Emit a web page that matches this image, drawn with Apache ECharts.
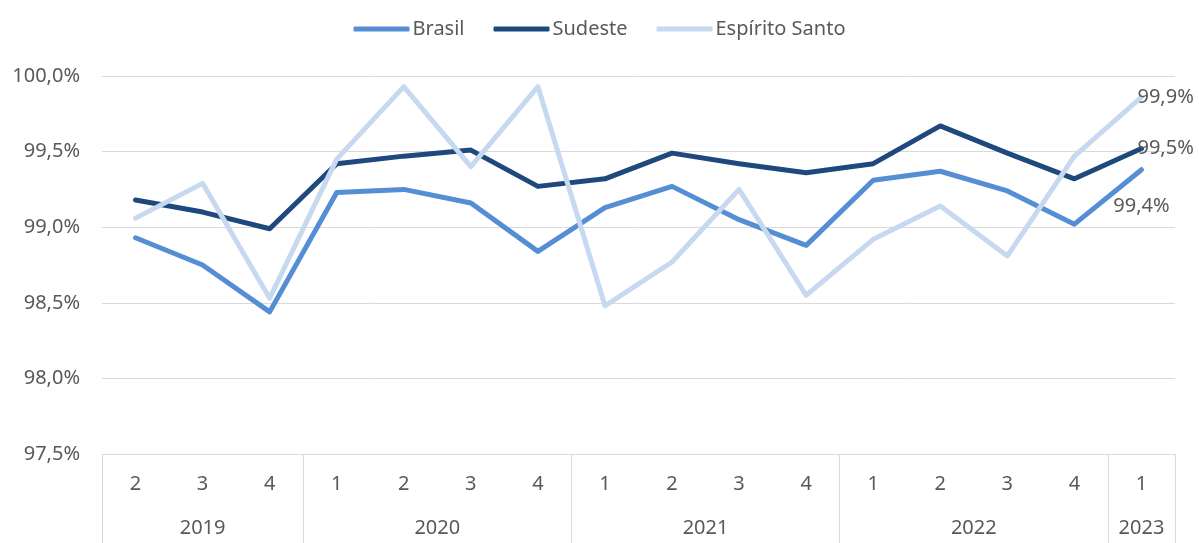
<!DOCTYPE html>
<html>
<head>
<meta charset="utf-8">
<script src="https://cdn.jsdelivr.net/npm/echarts@6/dist/echarts.min.js"></script>
<style>
  html, body { margin: 0; padding: 0; background: #fff; }
  #main { width: 1199px; height: 543px; }
</style>
</head>
<body>
<div id="main"></div>
<script>
const myChart = echarts.init(document.getElementById('main'));

// dados
const quarters = ['2', '3', '4', '1', '2', '3', '4', '1', '2', '3', '4', '1', '2', '3', '4', '1'];
const years = ['2019', '2020', '2021', '2022', '2023'];
const yearCounts = [3, 4, 4, 4, 1];
const brasil = [98.93, 98.75, 98.44, 99.23, 99.25, 99.16, 98.84, 99.13, 99.27, 99.05, 98.88, 99.31, 99.37, 99.24, 99.02, 99.38];
const sudeste = [99.18, 99.10, 98.99, 99.42, 99.47, 99.51, 99.27, 99.32, 99.49, 99.42, 99.36, 99.42, 99.67, 99.49, 99.32, 99.52];
const espiritoSanto = [99.06, 99.29, 98.53, 99.45, 99.93, 99.40, 99.93, 98.48, 98.77, 99.25, 98.55, 98.92, 99.14, 98.81, 99.47, 99.86];

const fmt = v => v.toFixed(1).replace('.', ',') + '%';
const textColor = '#595959';
const font = 'Noto Sans';

// limites e centros dos anos (em unidades de trimestre)
const bounds = [0];
yearCounts.forEach(c => bounds.push(bounds[bounds.length - 1] + c));
const centers = years.map((y, i) => (bounds[i] + bounds[i + 1]) / 2);

function lineSeries(name, color, data, endLabel) {
    return {
        name: name,
        type: 'line',
        symbol: 'none',
        color: color,
        lineStyle: { width: 5, color: color, cap: 'round', join: 'round' },
        endLabel: Object.assign({
            show: true,
            fontSize: 20,
            color: textColor,
            fontFamily: font,
            formatter: p => fmt(p.value)
        }, endLabel),
        data: data
    };
}

option = {
    backgroundColor: '#fff',
    textStyle: { fontFamily: font },
    legend: {
        top: 14,
        left: 'center',
        icon: 'roundRect',
        itemWidth: 56,
        itemHeight: 5,
        itemGap: 29,
        textStyle: { fontSize: 20, color: textColor, fontFamily: font, padding: [0, 0, 0, -2] },
        data: ['Brasil', 'Sudeste', 'Espírito Santo']
    },
    grid: { left: 102, right: 24, top: 76, bottom: 89 },
    xAxis: [
        {
            type: 'category',
            data: quarters,
            axisLine: { show: true, lineStyle: { color: '#D9D9D9', width: 1 } },
            axisTick: { show: false },
            axisLabel: { fontSize: 20, color: textColor, margin: 20, fontFamily: font }
        },
        {
            type: 'value',
            min: 0,
            max: quarters.length,
            position: 'bottom',
            splitLine: { show: false },
            axisLine: { show: false },
            axisTick: { show: true, customValues: bounds, length: 89, lineStyle: { color: '#D9D9D9', width: 1 } },
            axisLabel: {
                customValues: centers,
                fontSize: 20,
                color: textColor,
                margin: 64,
                fontFamily: font,
                formatter: v => years[centers.indexOf(v)]
            }
        }
    ],
    yAxis: {
        type: 'value',
        min: 97.5,
        max: 100,
        interval: 0.5,
        axisLine: { show: false },
        axisTick: { show: false },
        splitLine: { lineStyle: { color: '#D9D9D9', width: 1 } },
        axisLabel: { fontSize: 20, color: textColor, margin: 22, fontFamily: font, formatter: fmt }
    },
    series: [
        lineSeries('Brasil', '#558ED5', brasil, { distance: 0, align: 'center', offset: [0, 37] }),
        lineSeries('Sudeste', '#1F497D', sudeste, { distance: -4 }),
        lineSeries('Espírito Santo', '#C6D9F1', espiritoSanto, { distance: -4 })
    ]
};

myChart.setOption(option);
</script>
</body>
</html>
